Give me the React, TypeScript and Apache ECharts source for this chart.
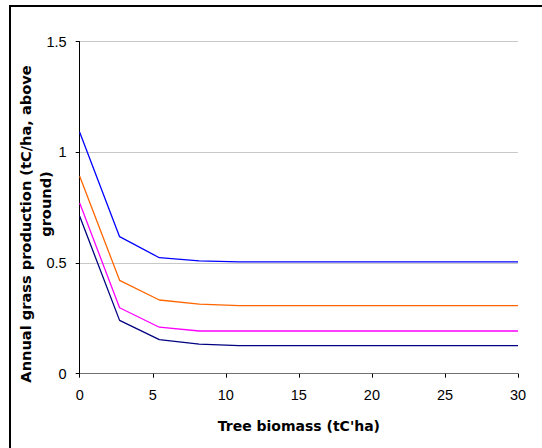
import React, { useEffect, useRef } from "react";
import * as echarts from "echarts";

const xValues = [0, 2.73, 5.45, 8.18, 10.91, 13.64, 16.36, 19.09, 21.82, 24.55, 27.27, 30];
const blueSeries = [1.091, 0.619, 0.524, 0.51, 0.505, 0.505, 0.505, 0.505, 0.505, 0.505, 0.505, 0.505];
const orangeSeries = [0.892, 0.422, 0.333, 0.314, 0.308, 0.308, 0.308, 0.308, 0.308, 0.308, 0.308, 0.308];
const magentaSeries = [0.771, 0.298, 0.21, 0.193, 0.193, 0.193, 0.193, 0.193, 0.193, 0.193, 0.193, 0.193];
const navySeries = [0.711, 0.241, 0.154, 0.134, 0.127, 0.127, 0.127, 0.127, 0.127, 0.127, 0.127, 0.127];
const seriesColors = ["#0000FF", "#FF6600", "#FF00FF", "#000080"];
const yTitleLines = ["Annual grass production (tC/ha, above", "ground)"];
const xTitle = "Tree biomass (tC'ha)";

const font = "'Liberation Sans', Arial, sans-serif";
const titleFont = "'DejaVu Sans', 'Liberation Sans', Arial, sans-serif";

export default function App() {
  const ref = useRef<HTMLDivElement>(null);
  useEffect(() => {
    if (!ref.current) return;
    const chart = echarts.init(ref.current, undefined, { renderer: "svg" });
    const all = [blueSeries, orangeSeries, magentaSeries, navySeries];
    chart.setOption({
      animation: false,
      backgroundColor: "#ffffff",
      textStyle: { fontFamily: font },
      grid: {
        left: 79.7,
        right: 24,
        top: 41.7,
        bottom: 74.3,
        containLabel: false,
        outerBoundsMode: "none",
      },
      graphic: [
        {
          type: "rect",
          shape: { x: 10, y: 6, width: 600, height: 500 },
          style: { fill: "none", stroke: "#000", lineWidth: 2 },
          silent: true,
        },
        {
          type: "text",
          x: 25.5,
          y: 224,
          rotation: Math.PI / 2,
          style: {
            text: yTitleLines[0],
            fontFamily: titleFont,
            fontSize: 14.6,
            fontWeight: "bold",
            fill: "#000",
            align: "center",
            verticalAlign: "middle",
          },
          silent: true,
        },
        {
          type: "text",
          x: 45,
          y: 204,
          rotation: Math.PI / 2,
          style: {
            text: yTitleLines[1],
            fontFamily: titleFont,
            fontSize: 14.6,
            fontWeight: "bold",
            fill: "#000",
            align: "center",
            verticalAlign: "middle",
          },
          silent: true,
        },
      ],
      xAxis: {
        type: "value",
        min: 0,
        max: 30,
        interval: 5,
        name: xTitle,
        nameLocation: "middle",
        nameGap: 45,
        nameTextStyle: { fontFamily: titleFont, fontSize: 14, fontWeight: "bold", color: "#000" },
        axisLine: { show: true, onZero: false, lineStyle: { color: "#707070", width: 1 } },
        axisTick: { show: true, inside: false, length: 4, lineStyle: { color: "#000" } },
        axisLabel: { margin: 14, fontFamily: font, fontSize: 14.5, color: "#000" },
        splitLine: { show: false },
      },
      yAxis: {
        type: "value",
        min: 0,
        max: 1.5,
        interval: 0.5,
        axisLine: { show: true, onZero: false, lineStyle: { color: "#000", width: 1 } },
        axisTick: { show: true, inside: false, length: 4, lineStyle: { color: "#000" } },
        axisLabel: { margin: 13, fontFamily: font, fontSize: 14.5, color: "#000" },
        splitLine: { show: true, lineStyle: { color: "#c8c8c8", width: 1 } },
      },
      series: all.map((vals, i) => ({
        type: "line",
        data: vals.map((v, j) => [xValues[j], v]),
        symbol: "none",
        lineStyle: { color: seriesColors[i], width: 1.3 },
        itemStyle: { color: seriesColors[i] },
      })),
    });
    return () => chart.dispose();
  }, []);
  return (
    <div
      ref={ref}
      style={{ position: "fixed", left: 0, top: 0, width: 542, height: 448, background: "#fff" }}
    />
  );
}
